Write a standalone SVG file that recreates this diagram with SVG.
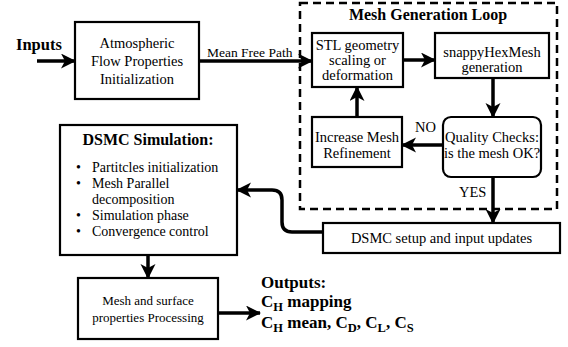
<svg xmlns="http://www.w3.org/2000/svg" width="568" height="347" viewBox="0 0 568 347" font-family="'Liberation Serif', 'DejaVu Serif', serif">
<defs>
<marker id="ah" markerUnits="userSpaceOnUse" markerWidth="16" markerHeight="16" refX="14" refY="7.5" orient="auto">
<path d="M0,0 L15,7.5 L0,15 L4,7.5 z" fill="#000"/>
</marker>
<style>
text{font-family:'Liberation Serif','DejaVu Serif',serif;fill:#000}
.t{font-size:14.5px;text-anchor:middle}
.s{font-size:14px}
.b{font-weight:bold}
.box{fill:#fff;stroke:#000;stroke-width:2.2}
.c{fill:none;stroke:#000;stroke-width:3.5;marker-end:url(#ah)}
</style>
</defs>
<rect width="568" height="347" fill="#fff"/>
<g id="loop">
<rect x="300" y="3" width="257" height="206" fill="none" stroke="#000" stroke-width="2.5" stroke-dasharray="8,5"/>
<text x="428" y="20" class="b" style="font-size:16px;text-anchor:middle">Mesh Generation Loop</text>
</g>
<g id="inputs"><text x="16" y="50" class="b" style="font-size:16.5px">Inputs</text></g>
<g id="atmo">
<rect class="box" x="75" y="22" width="124" height="77"/>
<text class="t" x="137" y="48">Atmospheric</text>
<text class="t" x="137" y="66">Flow Properties</text>
<text class="t" x="137" y="84">Initialization</text>
</g>
<g id="stl">
<rect class="box" x="312" y="33" width="91" height="54"/>
<text class="t" x="357.5" y="50">STL geometry</text>
<text class="t" x="357.5" y="65">scaling or</text>
<text class="t" x="357.5" y="80">deformation</text>
</g>
<g id="snappy">
<rect class="box" x="435" y="33" width="114" height="45"/>
<text class="t" x="492" y="57">snappyHexMesh</text>
<text class="t" x="492" y="72">generation</text>
</g>
<g id="increase">
<rect class="box" x="312" y="117" width="90" height="50"/>
<text class="t" x="357" y="142">Increase Mesh</text>
<text class="t" x="357" y="158">Refinement</text>
</g>
<g id="quality">
<rect class="box" x="443" y="117" width="98" height="60" rx="8"/>
<text class="t" x="492" y="142">Quality Checks:</text>
<text class="t" x="492" y="158">is the mesh OK?</text>
</g>
<g id="setup">
<rect class="box" x="323" y="223" width="237" height="30"/>
<text class="t" x="441.5" y="243">DSMC setup and input updates</text>
</g>
<g id="dsmc">
<rect class="box" x="60" y="125" width="177" height="130"/>
<text x="148" y="145" class="b" style="font-size:16px;text-anchor:middle">DSMC Simulation:</text>
<g class="s">
<text x="76" y="172">•</text><text x="92" y="172">Partitcles initialization</text>
<text x="76" y="188">•</text><text x="92" y="188">Mesh Parallel</text>
<text x="92" y="204">decomposition</text>
<text x="76" y="220">•</text><text x="92" y="220">Simulation phase</text>
<text x="76" y="236">•</text><text x="92" y="236">Convergence control</text>
</g>
</g>
<g id="post">
<rect class="box" x="78" y="278" width="140" height="61"/>
<text x="148" y="305" style="font-size:13px;text-anchor:middle">Mesh and surface</text>
<text x="148" y="322" style="font-size:13px;text-anchor:middle">properties Processing</text>
</g>
<g id="outputs" class="b" style="font-size:17px">
<text x="261" y="288">Outputs:</text>
<text x="261" y="307">C<tspan dy="4" style="font-size:12.5px">H</tspan><tspan dy="-4"> mapping</tspan></text>
<text x="261" y="328">C<tspan dy="4" style="font-size:12.5px">H</tspan><tspan dy="-4"> mean, C</tspan><tspan dy="4" style="font-size:12.5px">D</tspan><tspan dy="-4">, C</tspan><tspan dy="4" style="font-size:12.5px">L</tspan><tspan dy="-4">, C</tspan><tspan dy="4" style="font-size:12.5px">S</tspan></text>
</g>
<g id="connectors">
<path class="c" d="M37,61 H75"/>
<path class="c" d="M199,61 H312"/>
<text x="207" y="57" style="font-size:13.5px">Mean Free Path</text>
<path class="c" d="M403,60 H435"/>
<path class="c" d="M493,78 V117"/>
<path class="c" d="M443,145 H402"/>
<text x="415" y="132" style="font-size:14.5px">NO</text>
<path class="c" d="M357,117 V87"/>
<path class="c" d="M493,177 V223"/>
<text x="459" y="197" style="font-size:14.5px">YES</text>
<path class="c" d="M323,232 H292 Q282,232 282,222 V200 Q282,190 272,190 H237"/>
<path class="c" d="M148,255 V278"/>
<path class="c" d="M218,313 H260"/>
</g>
</svg>
